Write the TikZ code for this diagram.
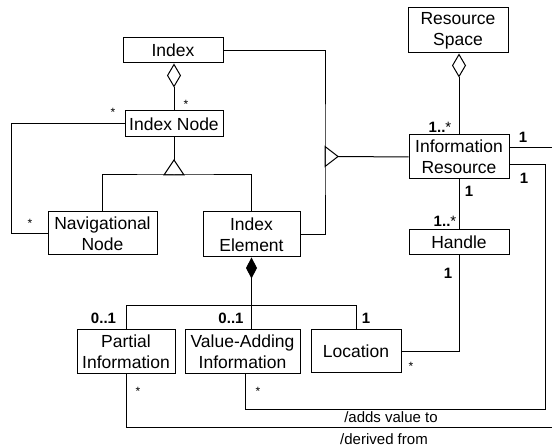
\documentclass[tikz,border=0pt]{standalone}
\usepackage{fontspec}
\setmainfont{Liberation Sans}
\usetikzlibrary{arrows.meta}
\begin{document}
\begin{tikzpicture}[x=1pt,y=-1pt,
  box/.style={draw, line width=1pt, inner sep=0pt, align=center, font=\fontsize{17.5}{21}\selectfont},
  conn/.style={line width=1pt},
  mult/.style={font=\bfseries\fontsize{15}{17}\selectfont, inner sep=0pt},
  starlab/.style={font=\fontsize{12}{14}\selectfont, inner sep=0pt},
  rlab/.style={font=\fontsize{15}{17}\selectfont, inner sep=0pt},
  agg/.style={-{Diamond[open,length=24pt,width=14pt,line width=1pt]}},
  comp/.style={-{Diamond[length=21pt,width=11pt]}}
]
\useasboundingbox (0,0) rectangle (552,446);
% classes
\node[box, minimum width=100pt, minimum height=25pt] (index) at (173,50.5) {Index};
\node[box, minimum width=98pt, minimum height=26pt] (inode) at (174,124) {Index Node};
\node[box, minimum width=109pt, minimum height=43pt] (nav) at (102.5,233.5) {Navigational\\Node};
\node[box, minimum width=97pt, minimum height=45pt] (ielem) at (251.5,234.5) {Index\\Element};
\node[box, minimum width=100pt, minimum height=45pt] (rspace) at (458,30.5) {Resource\\Space};
\node[box, minimum width=100pt, minimum height=44pt] (ires) at (459,157) {Information\\Resource};
\node[box, minimum width=100pt, minimum height=25pt] (handle) at (459,242.5) {Handle};
\node[box, minimum width=90pt, minimum height=43pt] (loc) at (356,351.5) {Location};
\node[box, minimum width=98pt, minimum height=44pt] (partial) at (126,352) {Partial\\Information};
\node[box, minimum width=115pt, minimum height=44pt] (vadd) at (242.5,352) {Value-Adding\\Information};
% Index -- Index Node aggregation
\draw[conn, agg] (inode.north) -- (inode.north |- index.south);
% Index Node -- Navigational Node association
\draw[conn] (inode.west) -- ++(-113,0) |- (nav.west);
% generalization Index Node
\coordinate (gtip) at (174,160);
\coordinate (gjoin) at (174,175);
\draw[conn] (inode.south) -- (gtip);
\draw[conn] (nav.north) |- (gjoin) -| (ielem.north);
\draw[conn, line join=miter] (gtip) -- ++(10,15) -- ++(-20,0) -- cycle;
% generalization Information Resource
\coordinate (gx) at (325,156.5);
\coordinate (gxa) at (338,156.5);
\draw[conn] (index.east) -| (gx) |- (ielem.east);
\draw[conn, line join=miter] (gx) -- ++(0,-10) -- (gxa) -- ++(-13,10) -- cycle;
\draw[conn] (gxa) -- (ires.west);
% Resource Space aggregation
\draw[conn, agg] (ires.north) -- (ires.north |- rspace.south);
% right side lines
\coordinate (e1) at (552,148);
\draw[conn] (e1 -| ires.east) -- (e1);
\coordinate (c1) at (545,165);
\coordinate (c2) at (545,410);
\draw[conn] (c1 -| ires.east) -- (c1) -- (c2) -| ([xshift=2.5pt]vadd.south);
% handle
\draw[conn] (ires.south) -- (handle.north);
\draw[conn] (handle.south) |- (loc.east);
% composition
\draw[conn, comp] (ielem.south |- vadd.north) -- (ielem.south);
\draw[conn] (partial.north) -- ++(0,-24) -| (loc.north);
% derived from
\coordinate (e2) at (552,428);
\draw[conn] (partial.south) |- (e2);
% labels
\node[starlab] (s1) at (186,104.6) {*};
\node[starlab] (s2) at (113,112.6) {*};
\node[starlab] (s3) at (30,223.6) {*};
\node[mult] (m1) at (440,127) {1..\textmd{*}};
\node[mult] (m2) at (523,137.5) {1};
\node[mult] (m3) at (524,178) {1};
\node[mult] (m4) at (469,191) {1};
\node[mult] (m5) at (445,221) {1..\textmd{*}};
\node[mult] (m6) at (448,273) {1};
\node[starlab] (s4) at (411,366.6) {*};
\node[mult] (m7) at (103.5,318.5) {0..1};
\node[mult] (m8) at (231,318.5) {0..1};
\node[mult] (m9) at (366,318) {1};
\node[starlab] (s5) at (138,391.6) {*};
\node[starlab] (s6) at (258,391.6) {*};
\node[rlab] (r1) at (391,417) {/adds value to};
\node[rlab] (r2) at (384,439) {/derived from};
\end{tikzpicture}
\end{document}
